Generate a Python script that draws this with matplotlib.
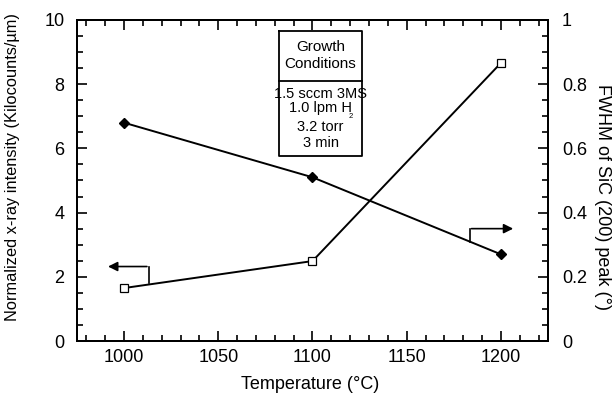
import matplotlib.pyplot as plt
from matplotlib.ticker import MultipleLocator, FuncFormatter

plt.rcParams['font.family'] = ['Liberation Sans', 'DejaVu Sans']

# data
temperature = [1000, 1100, 1200]
intensity = [1.65, 2.49, 8.66]      # left axis, open squares
fwhm = [0.68, 0.51, 0.27]           # right axis, filled diamonds

box_lines_top = ["Growth", "Conditions"]
box_lines_bottom = ["1.5 sccm 3MS", "1.0 lpm H", "3.2 torr", "3 min"]

fig = plt.figure(figsize=(6.14, 3.95), dpi=100)
ax = fig.add_axes([0.1254, 0.1367, 0.7671, 0.8127])
ax2 = ax.twinx()

ax.plot(temperature, intensity, color='black', lw=1.4, marker='s', ms=6,
        mfc='white', mec='black', mew=0.9, zorder=3)
ax2.plot(temperature, fwhm, color='black', lw=1.4, marker='D', ms=5,
         mfc='black', mec='black', zorder=3)

ax.set_xlim(975, 1225)
ax.set_ylim(0, 10)
ax2.set_ylim(0, 1)

ax.xaxis.set_major_locator(MultipleLocator(50))
ax.xaxis.set_minor_locator(MultipleLocator(10))
ax.yaxis.set_major_locator(MultipleLocator(2))
ax.yaxis.set_minor_locator(MultipleLocator(0.5))
ax2.yaxis.set_major_locator(MultipleLocator(0.2))
ax2.yaxis.set_minor_locator(MultipleLocator(0.05))
ax2.yaxis.set_major_formatter(FuncFormatter(lambda v, p: f"{v:g}"))

ax.tick_params(which='both', direction='in', top=True, labelsize=13, width=1.2, pad=6)
ax.tick_params(which='major', length=7)
ax.tick_params(which='minor', length=4)
ax.tick_params(axis='y', right=False, pad=9)
ax2.tick_params(which='both', direction='in', labelsize=13, width=1.2, pad=10)
ax2.tick_params(which='major', length=7)
ax2.tick_params(which='minor', length=4)

for a in (ax, ax2):
    for s in a.spines.values():
        s.set_linewidth(1.4)

ax.set_xlabel("Temperature (°C)", fontsize=13)
ax.xaxis.set_label_coords(0.495, -0.108)
ax.set_ylabel("Normalized x-ray intensity (Kilocounts/µm)", fontsize=11.8)
ax.yaxis.set_label_coords(-0.121, 0.542)
ax2.set_ylabel("FWHM of SiC (200) peak (°)", fontsize=13, rotation=-90, va='center')
ax2.yaxis.set_label_coords(1.115, 0.45)

# axis indicator arrows
ax.plot([1013, 1013], [1.8, 2.32], color='black', lw=1.2)
ax.annotate('', xy=(990, 2.32), xytext=(1013.6, 2.32),
            arrowprops=dict(arrowstyle='-|>', color='black', lw=1.2, mutation_scale=14))
ax2.plot([1183.5, 1183.5], [0.308, 0.35], color='black', lw=1.2)
ax2.annotate('', xy=(1208, 0.35), xytext=(1182.9, 0.35),
             arrowprops=dict(arrowstyle='-|>', color='black', lw=1.2, mutation_scale=14))

# growth conditions box
bx0, bx1 = 1082, 1126.5
by_top, by_mid, by_bot = 9.66, 8.1, 5.75
ax.plot([bx0, bx1, bx1, bx0, bx0], [by_top, by_top, by_bot, by_bot, by_top],
        color='black', lw=1.3, zorder=4)
ax.plot([bx0, bx1], [by_mid, by_mid], color='black', lw=1.3, zorder=4)
bxc = (bx0 + bx1) / 2
for txt, yv in zip(box_lines_top, [9.16, 8.63]):
    ax.text(bxc, yv, txt, ha='center', va='center', fontsize=11)
for txt, yv in zip(box_lines_bottom, [7.7, 7.26, 6.67, 6.17]):
    ax.text(bxc, yv, txt, ha='center', va='center', fontsize=10.5)
# small subscript "2" after the H
ax.text(bxc + 14.8, 7.0, "2", ha='left', va='center', fontsize=5.5)

fig.savefig("out.png", dpi=100)
